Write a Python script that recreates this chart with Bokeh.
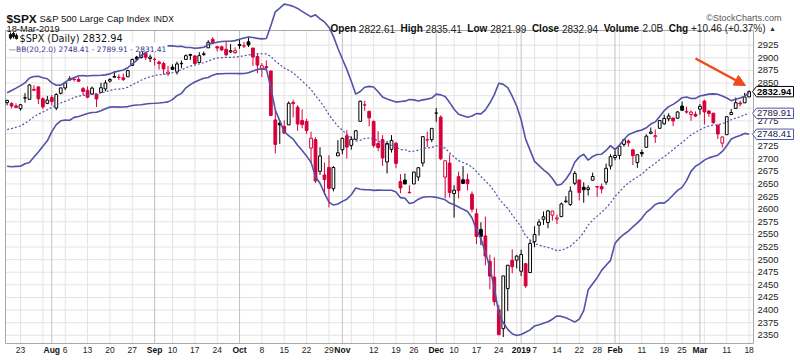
import datetime as dt
import numpy as np
from bokeh.plotting import figure
from bokeh.models import Range1d, ColumnDataSource, Arrow, NormalHead
from bokeh.core.properties import value
from bokeh.embed import file_html
from bokeh.resources import INLINE

# ---------------- data ----------------
dates = [
    "2018-07-18", "2018-07-19", "2018-07-20", "2018-07-23", "2018-07-24", "2018-07-25", "2018-07-26", "2018-07-27", "2018-07-30", "2018-07-31",
    "2018-08-01", "2018-08-02", "2018-08-03", "2018-08-06", "2018-08-07", "2018-08-08", "2018-08-09", "2018-08-10", "2018-08-13", "2018-08-14",
    "2018-08-15", "2018-08-16", "2018-08-17", "2018-08-20", "2018-08-21", "2018-08-22", "2018-08-23", "2018-08-24", "2018-08-27", "2018-08-28",
    "2018-08-29", "2018-08-30", "2018-08-31",
    "2018-09-04", "2018-09-05", "2018-09-06", "2018-09-07", "2018-09-10", "2018-09-11", "2018-09-12", "2018-09-13", "2018-09-14", "2018-09-17",
    "2018-09-18", "2018-09-19", "2018-09-20", "2018-09-21", "2018-09-24", "2018-09-25", "2018-09-26", "2018-09-27", "2018-09-28",
    "2018-10-01", "2018-10-02", "2018-10-03", "2018-10-04", "2018-10-05", "2018-10-08", "2018-10-09", "2018-10-10", "2018-10-11", "2018-10-12",
    "2018-10-15", "2018-10-16", "2018-10-17", "2018-10-18", "2018-10-19", "2018-10-22", "2018-10-23", "2018-10-24", "2018-10-25", "2018-10-26",
    "2018-10-29", "2018-10-30", "2018-10-31",
    "2018-11-01", "2018-11-02", "2018-11-05", "2018-11-06", "2018-11-07", "2018-11-08", "2018-11-09", "2018-11-12", "2018-11-13", "2018-11-14",
    "2018-11-15", "2018-11-16", "2018-11-19", "2018-11-20", "2018-11-21", "2018-11-23", "2018-11-26", "2018-11-27", "2018-11-28", "2018-11-29",
    "2018-11-30",
    "2018-12-03", "2018-12-04", "2018-12-06", "2018-12-07", "2018-12-10", "2018-12-11", "2018-12-12", "2018-12-13", "2018-12-14", "2018-12-17",
    "2018-12-18", "2018-12-19", "2018-12-20", "2018-12-21", "2018-12-24", "2018-12-26", "2018-12-27", "2018-12-28", "2018-12-31",
    "2019-01-02", "2019-01-03", "2019-01-04", "2019-01-07", "2019-01-08", "2019-01-09", "2019-01-10", "2019-01-11", "2019-01-14", "2019-01-15",
    "2019-01-16", "2019-01-17", "2019-01-18", "2019-01-22", "2019-01-23", "2019-01-24", "2019-01-25", "2019-01-28", "2019-01-29", "2019-01-30",
    "2019-01-31",
    "2019-02-01", "2019-02-04", "2019-02-05", "2019-02-06", "2019-02-07", "2019-02-08", "2019-02-11", "2019-02-12", "2019-02-13", "2019-02-14",
    "2019-02-15", "2019-02-19", "2019-02-20", "2019-02-21", "2019-02-22", "2019-02-25", "2019-02-26", "2019-02-27", "2019-02-28",
    "2019-03-01", "2019-03-04", "2019-03-05", "2019-03-06", "2019-03-07", "2019-03-08", "2019-03-11", "2019-03-12", "2019-03-13", "2019-03-14",
    "2019-03-15", "2019-03-18",
]

opens = [
    2811.35, 2809.37, 2804.55, 2799.17, 2820.68, 2817.73, 2835.49, 2842.35, 2819.00, 2809.73,
    2821.17, 2800.48, 2829.62, 2840.29, 2855.92, 2856.79, 2857.19, 2838.90, 2835.46, 2827.88,
    2827.95, 2831.44, 2838.32, 2853.93, 2861.51, 2860.99, 2860.29, 2862.35, 2884.69, 2901.45,
    2900.62, 2908.94, 2898.37,
    2896.96, 2891.59, 2888.64, 2868.26, 2881.39, 2871.57, 2888.29, 2896.85, 2906.38, 2903.83,
    2890.74, 2906.60, 2919.73, 2936.76, 2921.83, 2921.75, 2916.98, 2911.65, 2910.03,
    2926.29, 2923.80, 2931.69, 2919.35, 2902.54, 2877.53, 2882.51, 2873.90, 2776.87, 2770.54,
    2763.83, 2767.05, 2811.67, 2802.00, 2775.66, 2773.94, 2721.03, 2737.87, 2674.88, 2667.86,
    2682.65, 2640.68, 2705.60,
    2717.58, 2745.45, 2726.37, 2738.40, 2774.13, 2806.38, 2794.10, 2773.93, 2730.05, 2737.90,
    2693.52, 2718.54, 2730.74, 2654.60, 2657.74, 2633.36, 2649.97, 2663.75, 2691.45, 2736.97,
    2737.76,
    2790.50, 2782.43, 2663.51, 2691.26, 2630.86, 2664.44, 2658.23, 2658.70, 2629.68, 2590.75,
    2559.90, 2547.05, 2496.77, 2465.38, 2400.56, 2363.12, 2442.50, 2498.77, 2498.94,
    2476.96, 2491.92, 2474.33, 2535.61, 2568.11, 2580.00, 2573.51, 2588.11, 2580.31, 2585.10,
    2614.75, 2609.28, 2651.27, 2657.88, 2643.48, 2638.84, 2657.44, 2644.97, 2644.89, 2653.62,
    2685.49,
    2702.32, 2706.49, 2728.34, 2735.05, 2717.53, 2692.36, 2712.40, 2722.61, 2750.30, 2743.50,
    2760.24, 2769.28, 2779.05, 2780.67, 2780.24, 2804.35, 2792.36, 2787.50, 2788.11,
    2798.22, 2814.37, 2794.41, 2790.27, 2766.53, 2730.79, 2747.61, 2787.34, 2799.78, 2810.38,
    2810.79, 2822.61,
]

highs = [
    2816.76, 2812.05, 2809.70, 2808.61, 2829.99, 2848.03, 2845.57, 2843.17, 2821.74, 2824.46,
    2825.83, 2829.91, 2840.38, 2853.29, 2863.43, 2862.44, 2862.48, 2842.20, 2843.40, 2843.11,
    2827.95, 2850.49, 2855.63, 2859.76, 2873.23, 2867.54, 2868.78, 2876.16, 2898.25, 2903.77,
    2916.50, 2912.46, 2906.32,
    2900.18, 2894.21, 2892.05, 2883.81, 2886.93, 2892.52, 2894.65, 2906.76, 2908.30, 2904.65,
    2911.17, 2912.36, 2934.80, 2940.91, 2923.79, 2923.95, 2931.15, 2927.22, 2920.53,
    2937.06, 2931.42, 2939.86, 2919.78, 2909.64, 2889.45, 2894.83, 2874.02, 2795.14, 2775.77,
    2775.99, 2813.46, 2816.94, 2806.04, 2797.77, 2778.94, 2753.59, 2742.59, 2722.70, 2692.38,
    2706.85, 2685.43, 2736.69,
    2741.67, 2756.55, 2744.27, 2756.82, 2815.15, 2814.75, 2794.10, 2775.99, 2754.60, 2746.80,
    2735.38, 2746.75, 2733.16, 2669.44, 2670.73, 2647.55, 2674.35, 2682.53, 2744.00, 2753.75,
    2760.88,
    2800.18, 2785.93, 2696.15, 2708.54, 2647.51, 2674.35, 2685.44, 2670.19, 2635.07, 2601.13,
    2573.99, 2585.29, 2509.63, 2504.41, 2410.34, 2467.76, 2489.10, 2520.27, 2509.24,
    2519.49, 2493.14, 2538.07, 2566.16, 2579.82, 2595.32, 2597.82, 2596.27, 2589.32, 2613.08,
    2625.76, 2645.06, 2675.47, 2657.88, 2653.19, 2647.20, 2672.38, 2644.97, 2650.93, 2690.44,
    2708.95,
    2716.66, 2724.99, 2738.98, 2738.08, 2719.32, 2708.07, 2718.05, 2748.19, 2761.85, 2757.90,
    2775.66, 2787.33, 2789.88, 2781.58, 2794.20, 2813.49, 2803.12, 2795.76, 2793.73,
    2808.02, 2816.88, 2796.44, 2790.27, 2767.25, 2744.13, 2784.00, 2798.32, 2821.24, 2815.00,
    2830.73, 2835.41,
]

lows = [
    2805.89, 2799.77, 2800.01, 2795.14, 2811.12, 2817.73, 2835.26, 2808.34, 2798.11, 2808.06,
    2805.85, 2796.34, 2827.37, 2835.98, 2855.92, 2853.09, 2851.98, 2825.81, 2819.88, 2826.58,
    2802.49, 2831.44, 2833.73, 2850.62, 2861.32, 2856.05, 2854.03, 2862.35, 2884.69, 2893.50,
    2898.40, 2895.22, 2891.73,
    2885.13, 2876.92, 2867.29, 2864.12, 2875.94, 2866.78, 2879.20, 2896.39, 2895.77, 2886.16,
    2890.43, 2903.82, 2919.73, 2927.11, 2912.63, 2913.70, 2903.28, 2909.27, 2907.50,
    2917.91, 2919.37, 2921.36, 2883.92, 2869.29, 2862.08, 2874.27, 2784.86, 2710.51, 2729.44,
    2749.03, 2766.91, 2781.81, 2755.18, 2760.27, 2749.22, 2691.43, 2651.89, 2667.84, 2628.16,
    2603.54, 2635.34, 2705.60,
    2708.85, 2700.44, 2717.94, 2737.08, 2774.13, 2794.99, 2764.24, 2722.00, 2714.98, 2685.75,
    2670.75, 2712.16, 2681.09, 2631.52, 2649.82, 2631.09, 2649.97, 2655.89, 2684.38, 2722.94,
    2732.76,
    2773.38, 2697.18, 2621.53, 2623.14, 2583.23, 2621.30, 2650.26, 2637.27, 2593.84, 2530.54,
    2528.71, 2488.96, 2441.18, 2408.55, 2351.10, 2346.58, 2397.94, 2472.89, 2482.82,
    2467.47, 2443.96, 2474.33, 2524.56, 2547.56, 2568.89, 2562.02, 2577.40, 2570.41, 2585.10,
    2612.68, 2606.36, 2647.58, 2617.27, 2612.86, 2627.01, 2657.33, 2624.06, 2631.05, 2648.34,
    2678.65,
    2696.88, 2698.75, 2724.03, 2724.15, 2687.26, 2681.83, 2703.79, 2722.61, 2748.63, 2731.23,
    2760.24, 2767.29, 2774.06, 2764.55, 2779.11, 2794.99, 2789.47, 2775.13, 2782.51,
    2787.38, 2767.66, 2782.97, 2768.69, 2739.09, 2722.27, 2747.61, 2786.73, 2799.78, 2803.46,
    2810.79, 2821.99,
]

closes = [
    2815.62, 2804.49, 2801.83, 2806.98, 2820.40, 2846.07, 2837.44, 2818.82, 2802.60, 2816.29,
    2813.36, 2827.22, 2840.35, 2850.40, 2858.45, 2857.70, 2853.58, 2833.28, 2821.93, 2839.96,
    2818.37, 2840.69, 2850.13, 2857.05, 2862.96, 2861.82, 2856.98, 2874.69, 2896.74, 2897.52,
    2914.04, 2901.13, 2901.52,
    2896.72, 2888.60, 2878.05, 2871.68, 2877.13, 2887.89, 2888.92, 2904.18, 2904.98, 2888.80,
    2904.31, 2907.95, 2930.75, 2929.67, 2919.37, 2915.56, 2905.97, 2914.00, 2913.98,
    2924.59, 2923.43, 2925.51, 2901.61, 2885.57, 2884.43, 2880.34, 2785.68, 2728.37, 2767.13,
    2750.79, 2809.92, 2809.21, 2768.78, 2767.78, 2755.88, 2740.69, 2656.10, 2705.57, 2658.69,
    2641.25, 2682.63, 2711.74,
    2740.37, 2723.06, 2738.31, 2755.45, 2813.89, 2806.83, 2781.01, 2726.22, 2722.18, 2701.58,
    2730.20, 2736.27, 2690.73, 2641.89, 2649.93, 2632.56, 2673.45, 2682.17, 2743.79, 2737.80,
    2760.17,
    2790.37, 2700.06, 2695.95, 2633.08, 2637.72, 2636.78, 2651.07, 2650.54, 2599.95, 2545.94,
    2546.16, 2506.96, 2467.42, 2416.62, 2351.10, 2467.70, 2488.83, 2485.74, 2506.85,
    2510.03, 2447.89, 2531.94, 2549.69, 2574.41, 2584.96, 2596.64, 2596.26, 2582.61, 2610.30,
    2616.10, 2635.96, 2670.71, 2632.90, 2638.70, 2642.33, 2664.76, 2643.85, 2640.00, 2681.05,
    2704.10,
    2706.53, 2724.87, 2737.70, 2731.61, 2706.05, 2707.88, 2709.80, 2744.73, 2753.03, 2745.73,
    2775.60, 2779.76, 2784.70, 2774.88, 2792.67, 2796.11, 2793.90, 2792.38, 2784.49,
    2803.69, 2792.81, 2789.65, 2771.45, 2748.93, 2743.07, 2783.30, 2791.52, 2810.92, 2808.48,
    2822.48, 2832.94,
]

# 19 closes before the first visible day (needed for the 20-day Bollinger Bands)
warmup_closes = [2767.32, 2749.76, 2754.88, 2717.07, 2723.06, 2699.63, 2716.31, 2718.37, 2726.71, 2713.22,
                 2736.61, 2759.82, 2784.17, 2793.84, 2774.02, 2798.29, 2801.31, 2798.43, 2809.55]

volume_text = "2.0B"
y_ticks = [2350, 2375, 2400, 2425, 2450, 2475, 2500, 2525, 2550, 2575, 2600, 2625, 2650,
           2675, 2700, 2725, 2750, 2775, 2800, 2825, 2850, 2875, 2900, 2925]

# ---------------- derived ----------------
n = len(closes)
xs = list(range(n))
all_c = np.array(warmup_closes + closes)
bb_mid, bb_up, bb_lo = [], [], []
for i in range(n):
    w = all_c[i:i + 20]
    m, s = w.mean(), w.std()
    bb_mid.append(m); bb_up.append(m + 2 * s); bb_lo.append(m - 2 * s)

RED = "#d6003a"
BLACK = "#000000"
prev = [warmup_closes[-1]] + closes[:-1]
col = [BLACK if c >= pc else RED for c, pc in zip(closes, prev)]
fill = ["#ffffff" if c > o else k for o, c, k in zip(opens, closes, col)]
top = [max(o, c) for o, c in zip(opens, closes)]
bot = [min(o, c) for o, c in zip(opens, closes)]
src = ColumnDataSource(dict(x=xs, o=opens, h=highs, l=lows, c=closes, top=top, bot=bot,
                            col=col, fill=fill))

d = [dt.date.fromisoformat(s) for s in dates]
month_ticks = [i for i in range(1, n) if d[i].month != d[i - 1].month]
week_ticks = [i for i in range(1, n) if d[i].isocalendar()[1] != d[i - 1].isocalendar()[1]]
week_only = [i for i in week_ticks if i not in month_ticks]
week_labeled = [i for i in week_only if all(abs(i - m) > 2 for m in month_ticks)]

# ---------------- page geometry (canvas px -> data) ----------------
W, H = 800, 360
PX_DAY = 4.47
PX_PT = 0.5045

def X(px):
    return (px - 6.6) / PX_DAY

def Y(py):
    return 2925 - (py - 44.7) / PX_PT

CL, CR, CT, CB = X(5), X(753), Y(30), Y(343)   # chart area

p = figure(width=W, height=H, x_range=Range1d(X(0), X(W)), y_range=Range1d(Y(H), Y(0)),
           x_axis_location=None, y_axis_location=None, output_backend="svg",
           toolbar_location=None, title=None, min_border=0)
p.grid.visible = False
p.outline_line_color = None
p.background_fill_color = "white"
p.border_fill_color = "white"

def txt(xs_, ys_, texts, size, font="Liberation Sans", bold=False, color="#111111",
        align="left", baseline="middle"):
    p.text(x=xs_, y=ys_, text=texts, text_font=value(font), text_font_size=value(size),
           text_font_style=value("bold" if bold else "normal"), text_color=color,
           text_align=value(align), text_baseline=value(baseline))

# grid lines
p.segment(x0=[CL] * len(y_ticks), x1=[CR] * len(y_ticks), y0=y_ticks, y1=y_ticks,
          line_color="#e4e4e4", line_width=1)
p.segment(x0=week_only, x1=week_only, y0=[CB] * len(week_only), y1=[CT] * len(week_only),
          line_color="#e4e4e4", line_width=1)
p.segment(x0=month_ticks, x1=month_ticks, y0=[CB] * len(month_ticks), y1=[CT] * len(month_ticks),
          line_color="#c2c2c2", line_width=1)
p.quad(left=[CL], right=[CR], bottom=[CB], top=[CT], fill_color=None, line_color="#a8a8a8",
       line_width=1)

# candles
p.segment(x0="x", y0="l", x1="x", y1="h", line_color="col", line_width=1, source=src)
p.vbar(x="x", width=0.62, top="top", bottom="bot", fill_color="fill", line_color="col",
       line_width=1, source=src)

# bollinger bands
BB = "#5252a8"
p.line(xs, bb_up, line_color=BB, line_width=1.6)
p.line(xs, bb_lo, line_color=BB, line_width=1.6)
p.line(xs, bb_mid, line_color=BB, line_width=1.2, line_dash="2 2")

# legend inside the chart
p.quad(left=[X(7), X(7)], right=[X(128), X(167)], top=[Y(31), Y(42)], bottom=[Y(42), Y(51)],
       fill_color="white", line_color=None)
ic_x = [X(10), X(13), X(16)]
p.segment(x0=ic_x, x1=ic_x, y0=[Y(39), Y(38), Y(39)], y1=[Y(32), Y(31.5), Y(33)],
          line_color="#111111", line_width=1)
p.vbar(x=ic_x, width=0.5, top=[Y(34), Y(33), Y(35)], bottom=[Y(37.5), Y(36), Y(38)],
       fill_color="#111111", line_color="#111111")
txt([X(19)], [Y(38)], [f"$SPX (Daily) {closes[-1]:.2f}"], "9.7px", font="DejaVu Sans",
    baseline="alphabetic")
txt([X(8)], [Y(48.5)], [f"\u2014BB(20,2.0) {bb_lo[-1]:.2f} - {bb_mid[-1]:.2f} - {bb_up[-1]:.2f}"],
    "7.5px", font="DejaVu Sans", color="#35358f", baseline="alphabetic")

# right axis labels (those under the value tags are hidden, as in the chart)
tag_vals = [closes[-1], bb_mid[-1], bb_lo[-1]]
shown = [t for t in y_ticks if all(abs(t - v) * PX_PT > 6.5 for v in tag_vals)]
txt([X(757)] * len(shown), shown, [str(t) for t in shown], "9.5px", color="#222222")

# value tags
half = 5.2 / PX_PT
tx = [[X(752), X(756), X(793), X(793), X(756)] for _ in tag_vals]
ty = [[v, v + half, v + half, v - half, v - half] for v in tag_vals]
p.patches(tx, ty, fill_color="white", line_color=["#000000", BB, BB], line_width=1)
txt([X(756.5)], [closes[-1]], [f"{closes[-1]:.2f}"], "9.5px", bold=True, color="#000000")
txt([X(756.5)] * 2, [bb_mid[-1], bb_lo[-1]], [f"{bb_mid[-1]:.2f}", f"{bb_lo[-1]:.2f}"],
    "9.5px", color="#222244")

# x labels: day numbers and bold month names
txt(week_labeled, [Y(349)] * len(week_labeled), [str(d[i].day) for i in week_labeled],
    "8.5px", color="#222222", align="center")
txt(month_ticks, [Y(349)] * len(month_ticks),
    [str(d[i].year) if d[i].month == 1 else d[i].strftime("%b") for i in month_ticks],
    "8.5px", bold=True, color="#111111", align="center")

# red arrow
AC = "#f04a1c"
p.add_layout(Arrow(end=NormalHead(size=11, fill_color=AC, line_color=AC), x_start=X(695),
                   y_start=Y(58), x_end=X(745), y_end=Y(85), line_color=AC, line_width=2.5))

# header
txt([X(6)], [Y(18.5)], ["$SPX"], "11.8px", bold=True, baseline="alphabetic")
txt([X(39)], [Y(18.3)], ["S&P 500 Large Cap Index"], "9.5px", baseline="alphabetic")
txt([X(153)], [Y(18.3)], ["INDX"], "8.5px", baseline="alphabetic")
txt([X(6)], [Y(28)], [d[-1].strftime("%d-%b-%Y").lstrip("0")], "9.3px", baseline="alphabetic")
txt([X(781)], [Y(17.3)], ["\u00a9StockCharts.com"], "9px", color="#555555", align="right",
    baseline="alphabetic")

AR = {ch: 556 for ch in "0123456789"}
AR.update({".": 278, " ": 278, "+": 584, "(": 333, ")": 333, "%": 889, "B": 667, "-": 333})
ARB = {"O": 778, "p": 611, "e": 556, "n": 611, "H": 722, "i": 278, "g": 611, "h": 611, "L": 611,
       "o": 611, "w": 778, "C": 722, "l": 278, "s": 556, "V": 667, "u": 611, "m": 889, " ": 278}

def tw(s, bold, size):
    t = ARB if bold else AR
    return sum(t.get(ch, 556) for ch in s) * size / 1000.0

chg = closes[-1] - closes[-2]
pct = chg / closes[-2] * 100
pairs = [("Open", f"{opens[-1]:.2f}"), ("High", f"{highs[-1]:.2f}"), ("Low", f"{lows[-1]:.2f}"),
         ("Close", f"{closes[-1]:.2f}"), ("Volume", volume_text),
         ("Chg", f"{chg:+.2f} ({pct:+.2f}%)")]
hx = 330
FS = 10
bx, bt, nx, nt = [], [], [], []
for name, val in pairs:
    bx.append(X(hx)); bt.append(name)
    hx += tw(name, True, FS) + 2.8
    nx.append(X(hx)); nt.append(val)
    hx += tw(val, False, FS) + 5.6
txt(bx, [Y(28)] * len(bx), bt, f"{FS}px", bold=True, baseline="alphabetic")
txt(nx, [Y(28)] * len(nx), nt, f"{FS}px", color="#222222", baseline="alphabetic")
txt([X(hx - 2)], [Y(27.5)], ["\u25b2"], "7px", color="#333333", baseline="alphabetic")

open("out.html", "w").write(file_html(p, INLINE))
